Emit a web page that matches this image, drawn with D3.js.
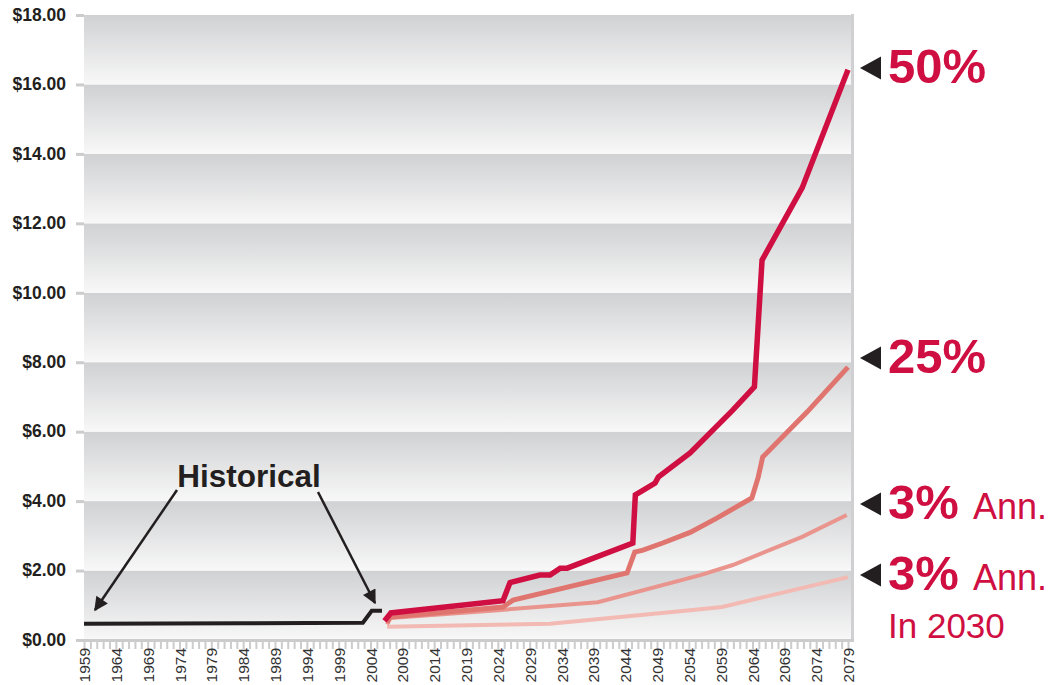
<!DOCTYPE html>
<html>
<head>
<meta charset="utf-8">
<script src="https://cdn.jsdelivr.net/npm/d3@7"></script>
<style>
  body { margin: 0; background: #fff; }
  svg { display: block; font-family: Arial, "Liberation Sans", Helvetica, sans-serif; }
</style>
</head>
<body>
<div id="chart"></div>
<script>
// values ($ per unit, by year)
var yTicks = [0, 2, 4, 6, 8, 10, 12, 14, 16, 18];
var yearTicks = d3.range(1959, 2080, 1);
var yearLabels = d3.range(1959, 2080, 5);

var histYears = [1959, 1984, 2002.8, 2004.2, 2005.8];
var histValues = [0.47, 0.48, 0.50, 0.84, 0.84];

var p50Years = [2006.2, 2007.2, 2024.8, 2025.9, 2030.6, 2032.2, 2033.8, 2034.9, 2045.2, 2045.6, 2048.7, 2049.2, 2054.2, 2060.9, 2064.3, 2065.5, 2071.8, 2079];
var p50Values = [0.55, 0.78, 1.13, 1.65, 1.87, 1.87, 2.07, 2.07, 2.79, 4.18, 4.52, 4.69, 5.39, 6.62, 7.29, 10.94, 13.02, 16.42];

var p25Years = [2006.6, 2007.1, 2024.8, 2026.4, 2044.3, 2045.5, 2046.8, 2050, 2054.2, 2058.4, 2063.9, 2064.9, 2065.6, 2072.6, 2079];
var p25Values = [0.5, 0.66, 0.95, 1.15, 1.93, 2.53, 2.59, 2.8, 3.1, 3.51, 4.09, 4.69, 5.27, 6.57, 7.86];

var annYears = [2006.6, 2007.1, 2024, 2039.7, 2055.8, 2060.9, 2071.8, 2078.8];
var annValues = [0.45, 0.63, 0.86, 1.09, 1.87, 2.16, 2.97, 3.60];

var ann2030Years = [2006.6, 2032.2, 2054.2, 2059.2, 2079];
var ann2030Values = [0.38, 0.47, 0.86, 0.95, 1.81];

var seriesNames = ["3% Ann. In 2030", "3% Ann.", "25%", "50%"];
var seriesColors = ["#f3b9b3", "#e9948d", "#e07570", "#cf0e41"];
var seriesWidths = [4, 4, 5, 5.5];

var svgWidth = 1055, svgHeight = 685;
var svg = d3.select("#chart").append("svg")
    .attr("width", svgWidth)
    .attr("height", svgHeight);

var x = d3.scaleLinear().domain([1959, 2079]).range([84, 848]);
var y = d3.scaleLinear().domain([0, 18]).range([640, 15]);

var defs = svg.append("defs");
var grad = defs.append("linearGradient").attr("id", "band")
    .attr("x1", 0).attr("y1", 0).attr("x2", 0).attr("y2", 1);
grad.append("stop").attr("offset", "0%").attr("stop-color", "#d0d1d3");
grad.append("stop").attr("offset", "100%").attr("stop-color", "#f8f8f8");

defs.append("marker").attr("id", "arrow")
    .attr("viewBox", "0 0 10 10").attr("refX", 9).attr("refY", 5)
    .attr("markerWidth", 16).attr("markerHeight", 14)
    .attr("markerUnits", "userSpaceOnUse")
    .attr("orient", "auto")
  .append("path").attr("d", "M0,0L10,5L0,10Z").attr("fill", "#231f20");

// gradient bands
svg.append("g").selectAll("rect")
    .data(yTicks.slice(0, -1))
    .enter().append("rect")
    .attr("x", x(1959))
    .attr("y", d => y(d + 2))
    .attr("width", 851 - x(1959))
    .attr("height", d => y(d) - y(d + 2))
    .attr("fill", "url(#band)");

// right border
svg.append("line")
    .attr("x1", 852.5).attr("x2", 852.5)
    .attr("y1", y(18) - 1).attr("y2", y(0))
    .attr("stroke", "#d0d0d2").attr("stroke-width", 3);

// left axis
var leftAxis = d3.axisLeft(y).tickValues(yTicks)
    .tickFormat(d => "$" + d.toFixed(2))
    .tickSize(8).tickPadding(10).tickSizeOuter(0);
var gy = svg.append("g").attr("transform", `translate(${x(1959)},0)`).call(leftAxis);
gy.select(".domain").remove();
gy.selectAll(".tick line").attr("stroke", "#cccccc").attr("stroke-width", 3);
gy.selectAll(".tick text")
    .attr("font-size", "17.5px").attr("font-weight", "bold")
    .attr("fill", "#231f20").attr("dy", "0.3em")
    .style("font-family", "Arial, 'Liberation Sans', sans-serif");

// bottom axis
var bottomAxis = d3.axisBottom(x).tickValues(yearTicks)
    .tickFormat(d => yearLabels.indexOf(d) >= 0 ? d : "")
    .tickSize(9).tickSizeOuter(0);
var gx = svg.append("g").attr("transform", `translate(0,${y(0)})`).call(bottomAxis);
gx.select(".domain").remove();
gx.selectAll(".tick line").attr("stroke", "#cccccc").attr("stroke-width", 2);
gx.selectAll(".tick text")
    .attr("transform", "rotate(-90)")
    .attr("x", -8).attr("y", 0).attr("dy", "0.36em")
    .attr("text-anchor", "end")
    .attr("font-size", "15.5px")
    .attr("fill", "#333")
    .style("font-family", "Arial, 'Liberation Sans', sans-serif");
svg.append("line")
    .attr("x1", 76).attr("x2", 854)
    .attr("y1", y(0) + 0.5).attr("y2", y(0) + 0.5)
    .attr("stroke", "#cccccc").attr("stroke-width", 3);

// lines
var line = d3.line().x(d => x(d[0])).y(d => y(d[1]));
var seriesData = [
  d3.zip(ann2030Years, ann2030Values),
  d3.zip(annYears, annValues),
  d3.zip(p25Years, p25Values),
  d3.zip(p50Years, p50Values)
];
svg.append("g").selectAll("path")
    .data(seriesData)
    .enter().append("path")
    .attr("d", line)
    .attr("fill", "none")
    .attr("stroke", (d, i) => seriesColors[i])
    .attr("stroke-width", (d, i) => seriesWidths[i])
    .attr("stroke-linejoin", "miter")
    .attr("stroke-miterlimit", 3);

svg.append("path")
    .attr("d", line(d3.zip(histYears, histValues)))
    .attr("fill", "none")
    .attr("stroke", "#231f20")
    .attr("stroke-width", 4);

// historical annotation
svg.append("text")
    .attr("x", 249).attr("y", 487)
    .attr("text-anchor", "middle")
    .attr("font-size", "31.5px").attr("font-weight", "bold")
    .attr("fill", "#231f20")
    .text("Historical");
svg.append("line")
    .attr("x1", 177).attr("y1", 490).attr("x2", 95).attr("y2", 610)
    .attr("stroke", "#231f20").attr("stroke-width", 2.5)
    .attr("marker-end", "url(#arrow)");
svg.append("line")
    .attr("x1", 318).attr("y1", 492).attr("x2", 375).attr("y2", 603)
    .attr("stroke", "#231f20").attr("stroke-width", 2.5)
    .attr("marker-end", "url(#arrow)");

// right-hand labels
var labelY = [68, 358, 504, 575];
var labelBig = ["50%", "25%", "3%", "3%"];
var labelSmall = ["", "", "Ann.", "Ann."];
var lab = svg.append("g").selectAll("g")
    .data(labelY)
    .enter().append("g");
lab.append("path")
    .attr("d", d => `M860,${d}L881,${d - 11.5}L881,${d + 11.5}Z`)
    .attr("fill", "#231f20");
lab.append("text")
    .attr("x", 888).attr("y", d => d + 15)
    .attr("font-size", "49px").attr("font-weight", "bold")
    .attr("fill", "#cf0e41")
    .text((d, i) => labelBig[i]);
lab.append("text")
    .attr("x", 973).attr("y", d => d + 15)
    .attr("font-size", "36px")
    .attr("fill", "#cf0e41")
    .text((d, i) => labelSmall[i]);
svg.append("text")
    .attr("x", 888).attr("y", 638)
    .attr("font-size", "35px")
    .attr("fill", "#cf0e41")
    .text("In 2030");
</script>
</body>
</html>
